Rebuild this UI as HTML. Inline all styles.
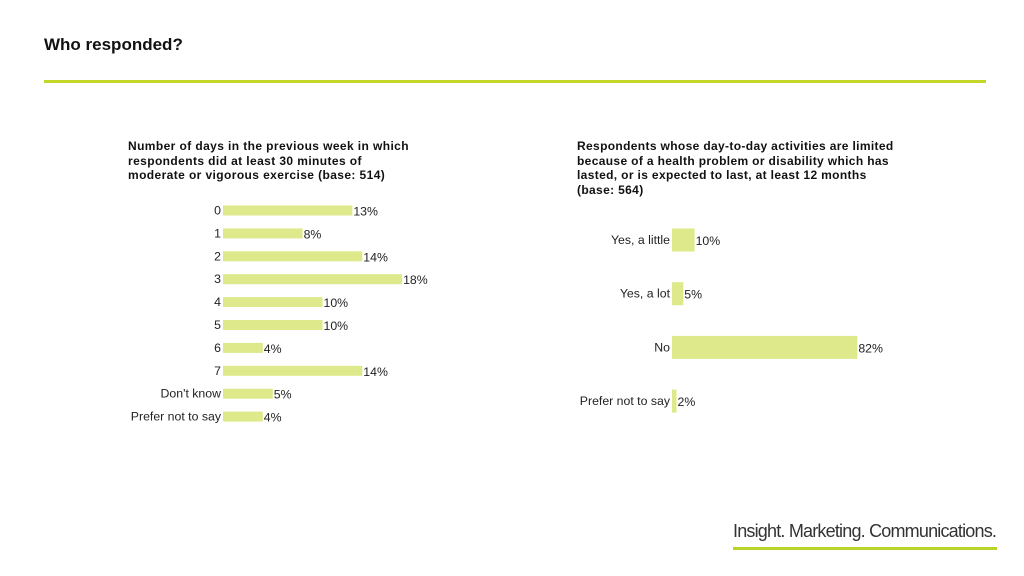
<!DOCTYPE html>
<html><head><meta charset="utf-8"><style>
body{margin:0;width:1024px;height:576px;background:#fff;font-family:"Liberation Sans",sans-serif;position:relative;overflow:hidden;color:#222}
.t{position:absolute;white-space:nowrap}
</style></head><body>
<div class="t" style="left:44px;top:35px;font-size:17px;font-weight:bold;color:#111">Who responded?</div>
<div style="position:absolute;left:44px;top:80px;width:942px;height:3px;background:#c3d62a"></div>
<div class="t" style="left:128px;top:139px;font-size:12px;font-weight:bold;line-height:14.5px;color:#111;letter-spacing:0.4px">Number of days in the previous week in which<br>respondents did at least 30 minutes of<br>moderate or vigorous exercise (base: 514)</div>
<div class="t" style="left:577px;top:139px;font-size:12px;font-weight:bold;line-height:14.5px;color:#111;letter-spacing:0.35px">Respondents whose day-to-day activities are limited<br>because of a health problem or disability which has<br>lasted, or is expected to last, at least 12 months<br>(base: 564)</div>
<svg id="c" width="1024" height="576" style="position:absolute;left:0;top:0"></svg>
<div class="t" style="left:733px;top:521px;font-size:18px;color:#333;letter-spacing:-0.8px">Insight. Marketing. Communications.</div>
<div style="position:absolute;left:733px;top:547px;width:264px;height:3px;background:#b9d32a"></div>
<script>
const leftCats=["0","1","2","3","4","5","6","7","Don't know","Prefer not to say"];
const leftVals=[13,8,14,18,10,10,4,14,5,4];
const rightCats=["Yes, a little","Yes, a lot","No","Prefer not to say"];
const rightVals=[10,5,82,2];
const svg=document.getElementById('c');
const NS='http://www.w3.org/2000/svg';
function draw(cats,vals,x0,scale,y0,step,h,prefix){
  cats.forEach((c,i)=>{
    const cy=y0+i*step, w=vals[i]*scale;
    const r=document.createElementNS(NS,'rect');
    r.setAttribute('x',x0);r.setAttribute('y',cy-h/2);r.setAttribute('width',w);r.setAttribute('height',h);r.setAttribute('fill','#dde98a');
    
    
    svg.appendChild(r);
    const l=document.createElementNS(NS,'text');
    l.setAttribute('x',x0-2);l.setAttribute('y',cy+4);l.setAttribute('text-anchor','end');l.setAttribute('font-size','12.3');l.setAttribute('fill','#222');l.setAttribute('font-family','Liberation Sans, sans-serif');
    l.textContent=c;
    
    
    svg.appendChild(l);
    const v=document.createElementNS(NS,'text');
    v.setAttribute('x',x0+w+1);v.setAttribute('y',cy+5);v.setAttribute('font-size','12.3');v.setAttribute('fill','#222');v.setAttribute('font-family','Liberation Sans, sans-serif');
    v.textContent=vals[i]+'%';
    
    
    svg.appendChild(v);
  });
}
draw(leftCats,leftVals,223,9.95,210.5,22.9,10,'left');
draw(rightCats,rightVals,672,2.26,240,53.7,23,'right');
</script>
</body></html>
